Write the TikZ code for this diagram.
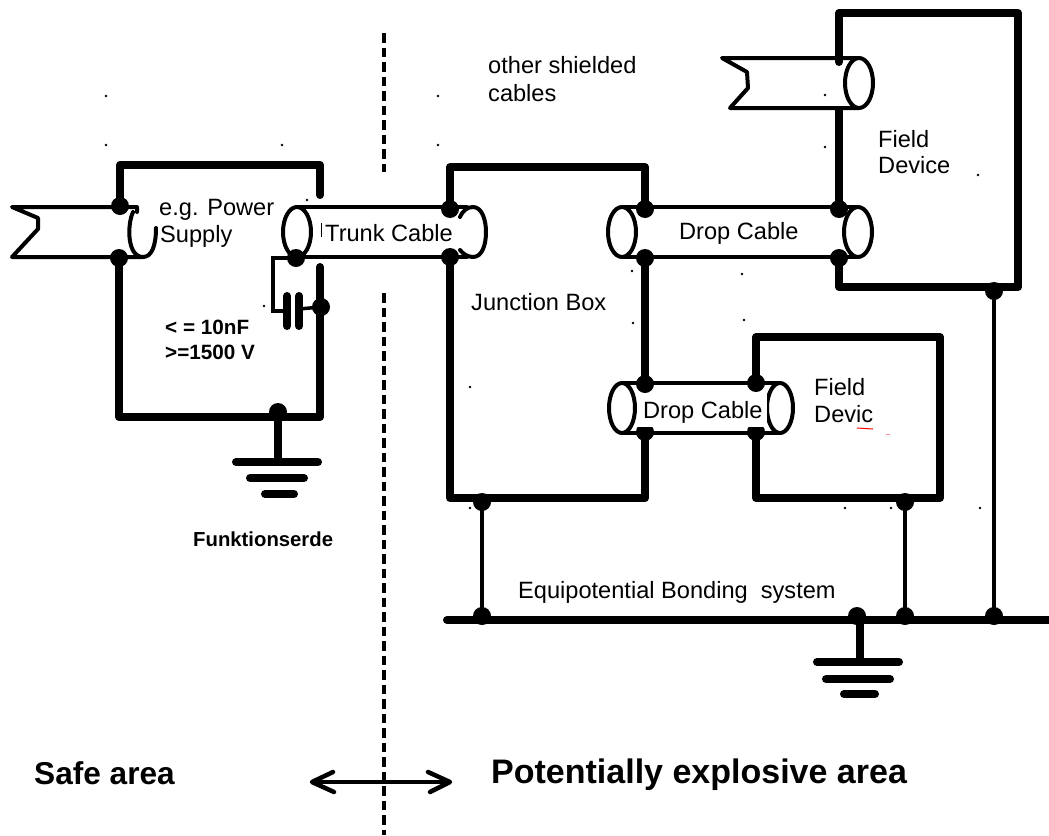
\documentclass[tikz,border=0pt]{standalone}
\usepackage{fontspec}
\setmainfont{Liberation Sans}
\newcommand{\fnorm}{\fontsize{23.6}{27}\selectfont}
\newcommand{\fsmall}{\fontsize{20.7}{25}\selectfont\bfseries}
\newcommand{\fsmaller}{\fontsize{20.3}{25}\selectfont\bfseries}
\newcommand{\fbig}{\fontsize{31.6}{36}\selectfont\bfseries}
\newcommand{\fbigger}{\fontsize{34}{38}\selectfont\bfseries}
\tikzset{
  thickwire/.style={line width=8pt,line join=round,line cap=round},
  thinwire/.style={line width=4pt,line join=round,line cap=round},
  jdot/.style={circle,fill=black,inner sep=0pt,minimum size=18pt},
  speck/.style={circle,fill=black,inner sep=0pt,minimum size=2.6pt},
  label/.style={anchor=base west,inner sep=0pt,font=\fnorm},
  boldlabel/.style={anchor=base west,inner sep=0pt,font=\fsmall},
  biglabel/.style={anchor=base west,inner sep=0pt,font=\fbig},
  zone/.style={line width=4.5pt,dash pattern=on 9.5pt off 5pt},
}
\begin{document}
\begin{tikzpicture}[x=1pt,y=-1pt]
\useasboundingbox (0,0) rectangle (1049,835);
% dots
\node[jdot] (psA) at (120,206) {};
\node[jdot] (psB) at (119,258) {};
\node[jdot] (trL) at (296,258) {};
\node[jdot] (capD) at (321,307) {};
\node[jdot] (psG) at (278,412) {};
\node[jdot] (jbA) at (450,209) {};
\node[jdot] (jbB) at (450,257) {};
\node[jdot] (jbC) at (645,209) {};
\node[jdot] (jbD) at (645,258) {};
\node[jdot] (fdA) at (839,209) {};
\node[jdot] (fdB) at (839,258) {};
\node[jdot] (fdG) at (994,291) {};
\node[jdot] (jbE) at (645,384) {};
\node[jdot] (jbF) at (645,432) {};
\node[jdot] (f2A) at (756,383) {};
\node[jdot] (f2B) at (756,432) {};
\node[jdot] (jbG) at (482,502) {};
\node[jdot] (f2G) at (905,502) {};
\node[jdot] (e1) at (482,616) {};
\node[jdot] (e2) at (857,616) {};
\node[jdot] (e3) at (905,616) {};
\node[jdot] (e4) at (994,616) {};
% helper points
\coordinate (busL) at (447,620);
\coordinate (busR) at (1060,620);
% power supply box
\draw[thickwire] (psA.center) -- (120,165) -- (320,165) -- (320,195);
\draw[thickwire] (psB.center) -- (119,417) -- (320,417) -- (320,267);
\draw[thickwire] (psG.center) -- (278,462);
\draw[line width=8pt,line cap=round] (236,462) -- (318,462);
\draw[line width=8pt,line cap=round] (250,478) -- (304,478);
\draw[line width=8pt,line cap=round] (265,494) -- (294,494);
% left cable
\draw[thinwire] (137,212) -- (137,207) -- (12,207) -- (38,218) -- (38,229) -- (12,257) -- (143,257);
\draw[thinwire] (133,212) .. controls (127,225) and (127,257) .. (143,257) .. controls (152,257) and (156,245) .. (156,228);
% trunk cable
\draw[thinwire] (297,207) -- (467,207);
\draw[thinwire] (297,257) -- (467,257);
\draw[thinwire] (297,232) ellipse [x radius=14pt,y radius=25pt];
\draw[thinwire] (460,217) .. controls (463,210) and (468,207) .. (473,207) .. controls (482,207) and (486,220) .. (486,232) .. controls (486,245) and (482,257) .. (473,257) .. controls (468,257) and (463,254) .. (460,250);
\draw[line width=1pt] (321,223) -- (321,237);
% capacitor
\draw[line width=3.5pt,line join=miter] (trL.center) -- (273,258) -- (273,311) -- (287,311);
\draw[line width=3.5pt] (299,309) -- (capD.center);
\draw[thickwire] (287,296) -- (287,326);
\draw[thickwire] (299,296) -- (299,326);
% junction box
\draw[thickwire] (jbA.center) -- (450,167) -- (645,167) -- (jbC.center);
\draw[thickwire] (jbB.center) -- (450,498) -- (645,498) -- (jbF.center);
\draw[thickwire] (jbD.center) -- (jbE.center);
% drop cable 1
\draw[thinwire] (622,207) -- (858,207);
\draw[thinwire] (622,257) -- (858,257);
\draw[thinwire] (622,232) ellipse [x radius=14pt,y radius=25pt];
\draw[thinwire,fill=white] (858,232) ellipse [x radius=14pt,y radius=25pt];
% field device
\draw[thickwire] (839,62) -- (839,13) -- (1018,13) -- (1018,287) -- (839,287) -- (fdB.center);
\draw[thickwire] (839,110) -- (fdA.center);
% other shielded cable
\draw[thinwire] (859,58) -- (722,58) -- (747,72) -- (748,88) -- (730,108) -- (859,108);
\draw[thinwire,fill=white] (859,83) ellipse [x radius=14pt,y radius=25pt];
% field device 2
\draw[thickwire] (f2A.center) -- (756,337) -- (940,337) -- (940,498) -- (756,498) -- (f2B.center);
% drop cable 2
\draw[thinwire] (622,383) -- (780,383);
\draw[thinwire] (622,433) -- (780,433);
\draw[thinwire] (622,408) ellipse [x radius=13pt,y radius=25pt];
\draw[thinwire] (780,408) ellipse [x radius=13pt,y radius=25pt];
\fill[white] (637,393) rectangle (767,427);
% bonding
\draw[line width=4.5pt] (jbG.center) -- (e1.center);
\draw[line width=4.5pt] (f2G.center) -- (e3.center);
\draw[line width=4.5pt] (fdG.center) -- (e4.center);
\draw[thickwire] (busL) -- (busR);
\draw[thickwire] (860,620) -- (860,662);
\draw[line width=8pt,line cap=round] (817,662) -- (899,662);
\draw[line width=8pt,line cap=round] (826,679) -- (890,679);
\draw[line width=8pt,line cap=round] (844,694) -- (875,694);
% zone divider
\draw[zone] (384,33) -- (384,172);
\draw[zone] (384,293) -- (384,835);
\coordinate (arL) at (312,782);
\coordinate (arR) at (450,782);
\draw[line width=3.5pt] (arL) -- (arR);
\draw[line width=4.5pt,line cap=round,line join=round] (333,772) -- (arL) -- (334,792);
\draw[line width=4.5pt,line cap=round,line join=round] (428,772) -- (arR) -- (430,792);
% specks
\foreach \n/\p in {a/{106,96},b/{438,96},c/{106,145},d/{282,145},e/{438,145},f/{307,200},g/{264,306},h/{470,387},i/{825,95},j/{825,147},k/{978,175},l/{632,271},m/{742,274},n/{744,320},o/{633,323},q/{470,508},r/{845,508},s/{891,508},t/{980,508}}
  \node[speck] (sp\n) at (\p) {};
% red marks
\draw[red,line width=1pt] (857,428) -- (873,429);
\draw[red!40,line width=1pt] (886,434) -- (890,434);
% labels
\node[label] (t1) at (488,73) {other shielded};
\node[label] (t2) at (488,101) {cables};
\node[label] (t3) at (159,215) {e.g. Power};
\node[label] (t4) at (160,242) {Supply};
\node[label] (t5) at (325,241) {Trunk Cable};
\node[boldlabel] (t6) at (165,334) {< = 10nF};
\node[boldlabel] (t7) at (165,359) {>=1500 V};
\node[label] (t8) at (471,310) {Junction Box};
\node[label] (t9) at (679,239) {Drop Cable};
\node[label] (t10) at (643,418) {Drop Cable};
\node[label] (t11) at (814,395) {Field};
\node[label] (t12) at (814,422) {Devic};
\node[label] (t13) at (878,147) {Field};
\node[label] (t14) at (878,173) {Device};
\node[boldlabel,font=\fsmaller] (t15) at (193,546) {Funktionserde};
\node[label] (t16) at (518,598) {Equipotential Bonding\ \ system};
\node[biglabel] (t17) at (34,784) {Safe area};
\node[biglabel,font=\fbigger] (t18) at (491,783) {Potentially explosive area};
\end{tikzpicture}
\end{document}
